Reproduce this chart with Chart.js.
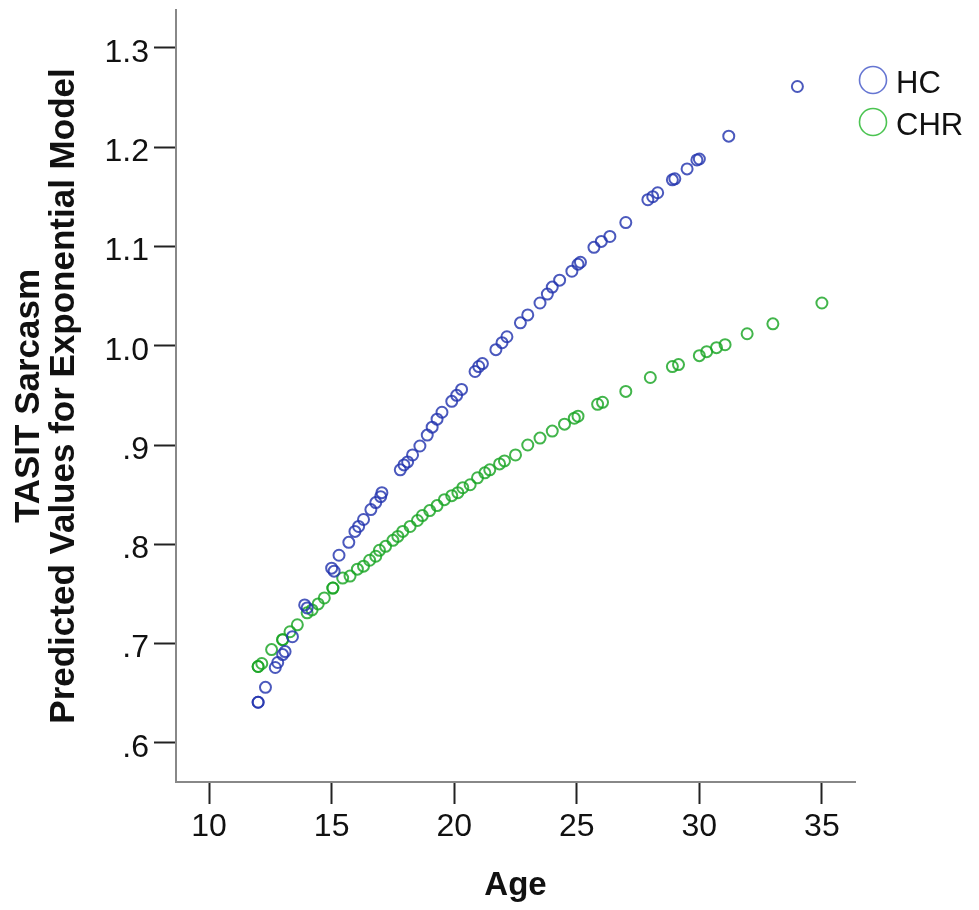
<!DOCTYPE html>
<html>
<head>
<meta charset="utf-8">
<script src="https://cdn.jsdelivr.net/npm/chart.js@4.4.1/dist/chart.umd.min.js"></script>
<style>
  body { margin: 0; background: #fff; }
  #wrap { width: 979px; height: 910px; position: relative; }
</style>
</head>
<body>
<div id="wrap"><canvas id="chartScatter"></canvas></div>
<script>
// HC group: age vs predicted value
const hcAge = [12.0, 12.0, 12.3, 12.7, 12.8, 13.0, 13.1, 13.4, 13.9, 14.0, 15.0, 15.1, 15.3, 15.7,
  15.95, 16.1, 16.3, 16.6, 16.8, 17.0, 17.05, 17.8, 17.95, 18.1, 18.3, 18.6, 18.9, 19.1, 19.3,
  19.5, 19.9, 20.1, 20.3, 20.85, 21.0, 21.15, 21.7, 21.95, 22.15, 22.7, 23.0, 23.5, 23.8, 24.0,
  24.3, 24.8, 25.05, 25.15, 25.7, 26.0, 26.35, 27.0, 27.9, 28.1, 28.3, 28.9, 29.0, 29.5, 29.9,
  30.0, 31.2, 34.0];
const hcPred = [0.641, 0.641, 0.656, 0.676, 0.681, 0.689, 0.692, 0.707, 0.739, 0.736, 0.776, 0.773,
  0.789, 0.802, 0.813, 0.818, 0.825, 0.835, 0.842, 0.848, 0.852, 0.875, 0.880, 0.883, 0.890,
  0.899, 0.910, 0.918, 0.926, 0.933, 0.944, 0.950, 0.956, 0.974, 0.979, 0.982, 0.996, 1.003,
  1.009, 1.023, 1.031, 1.043, 1.052, 1.059, 1.066, 1.075, 1.082, 1.084, 1.099, 1.105, 1.110,
  1.124, 1.147, 1.150, 1.154, 1.167, 1.168, 1.178, 1.187, 1.188, 1.211, 1.261];

// CHR group
const chrAge = [12.0, 12.0, 12.15, 12.55, 13.0, 13.0, 13.3, 13.6, 14.0, 14.2, 14.45, 14.7, 15.05,
  15.05, 15.45, 15.75, 16.05, 16.3, 16.55, 16.8, 16.95, 17.2, 17.5, 17.7, 17.9, 18.2, 18.5, 18.7,
  19.0, 19.3, 19.6, 19.9, 20.15, 20.35, 20.65, 20.95, 21.25, 21.45, 21.85, 22.05, 22.5, 23.0,
  23.5, 24.0, 24.5, 24.9, 25.05, 25.85, 26.05, 27.0, 28.0, 28.9, 29.15, 30.0, 30.3, 30.7, 31.05,
  31.95, 33.0, 35.0];
const chrPred = [0.677, 0.677, 0.680, 0.694, 0.704, 0.704, 0.712, 0.719, 0.731, 0.734, 0.740, 0.746,
  0.756, 0.756, 0.766, 0.768, 0.775, 0.778, 0.784, 0.788, 0.794, 0.798, 0.804, 0.808, 0.813,
  0.818, 0.824, 0.829, 0.834, 0.839, 0.845, 0.849, 0.852, 0.857, 0.860, 0.867, 0.872, 0.875,
  0.881, 0.884, 0.890, 0.900, 0.907, 0.914, 0.921, 0.927, 0.929, 0.941, 0.943, 0.954, 0.968,
  0.979, 0.981, 0.990, 0.994, 0.998, 1.001, 1.012, 1.022, 1.043];

const xTicks = [10, 15, 20, 25, 30, 35];
const yTicks = [0.6, 0.7, 0.8, 0.9, 1.0, 1.1, 1.2, 1.3];
const yTickLabels = ['.6', '.7', '.8', '.9', '1.0', '1.1', '1.2', '1.3'];

const FONT = "'Liberation Sans', Arial, sans-serif";

function toPoints(xs, ys) {
    return xs.map((x, i) => ({ x: x, y: ys[i] }));
}

// draws the HC / CHR key at the top right
const legendKey = {
    id: 'legendKey',
    afterDraw(chart) {
        const ctx = chart.ctx;
        const items = [
            { label: chart.data.datasets[0].label, color: '#6676d2', y: 80 },
            { label: chart.data.datasets[1].label, color: '#4cc452', y: 122 },
        ];
        ctx.save();
        ctx.font = "31px " + FONT;
        ctx.textBaseline = 'middle';
        ctx.fillStyle = '#111';
        items.forEach(it => {
            ctx.beginPath();
            ctx.arc(873, it.y, 13.5, 0, Math.PI * 2);
            ctx.lineWidth = 1.6;
            ctx.strokeStyle = it.color;
            ctx.stroke();
            ctx.fillText(it.label, 896, it.y + 4);
        });
        ctx.restore();
    }
};

// no extra room for the end labels, so the axes keep their fixed box
function noPad(s) {
    s.paddingTop = 0;
    s.paddingBottom = 0;
    s.paddingLeft = 0;
    s.paddingRight = 0;
}

const chartScatter = new Chart(document.getElementById('chartScatter'), {
    type: 'scatter',
    data: {
        datasets: [
            {
                label: 'HC',
                data: toPoints(hcAge, hcPred),
                borderColor: 'rgba(35, 52, 175, 0.82)',
                backgroundColor: 'rgba(0,0,0,0)',
                borderWidth: 2,
                pointRadius: 5.5,
            },
            {
                label: 'CHR',
                data: toPoints(chrAge, chrPred),
                borderColor: 'rgba(25, 165, 35, 0.82)',
                backgroundColor: 'rgba(0,0,0,0)',
                borderWidth: 2,
                pointRadius: 5.5,
            },
        ]
    },
    options: {
        responsive: true,
        maintainAspectRatio: false,
        animation: false,
        layout: {
            padding: { left: 0, top: 10, right: 124, bottom: 0 }
        },
        plugins: {
            legend: { display: false },
            tooltip: { enabled: false },
        },
        scales: {
            x: {
                type: 'linear',
                min: 8.65,
                max: 36.35,
                afterBuildTicks: s => { s.ticks = xTicks.map(v => ({ value: v })); },
                afterFit: s => { s.height = 128; noPad(s); },
                ticks: {
                    color: '#111',
                    font: { family: FONT, size: 32 },
                    padding: 4,
                },
                grid: {
                    drawOnChartArea: false,
                    tickLength: 22,
                    tickColor: '#222',
                    tickWidth: 2,
                },
                border: { color: '#888', width: 2 },
                title: {
                    display: true,
                    text: 'Age',
                    color: '#111',
                    font: { family: FONT, size: 33, weight: 'bold', lineHeight: 1 },
                    padding: { top: 0, bottom: 8 },
                },
            },
            y: {
                type: 'linear',
                min: 0.5607,
                max: 1.338,
                afterBuildTicks: s => { s.ticks = yTicks.map(v => ({ value: v })); },
                afterFit: s => { s.width = 176; noPad(s); },
                ticks: {
                    color: '#111',
                    font: { family: FONT, size: 32 },
                    padding: 5,
                    labelOffset: 5,
                    callback: (v, i) => yTickLabels[i],
                },
                grid: {
                    drawOnChartArea: false,
                    tickLength: 22,
                    tickColor: '#222',
                    tickWidth: 2,
                },
                border: { color: '#888', width: 2 },
                title: {
                    display: true,
                    text: ['TASIT Sarcasm', 'Predicted Values for Exponential Model'],
                    color: '#111',
                    font: { family: FONT, size: 35, weight: 'bold', lineHeight: 1 },
                    padding: { top: 12, bottom: 0 },
                },
            },
        },
    },
    plugins: [legendKey],
});
</script>
</body>
</html>
